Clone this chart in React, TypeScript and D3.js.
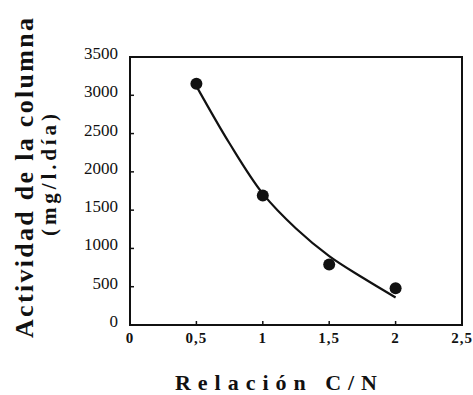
import React from "react";
import * as d3 from "d3";

// Measured points
const pointX = [0.5, 1, 1.5, 2];
const pointY = [3150, 1690, 790, 480];

// Fitted curve
const curveX = [0.5, 0.75, 1, 1.25, 1.5, 1.75, 2];
const curveY = [3120, 2370, 1715, 1260, 900, 620, 360];

const xTicks = [0, 0.5, 1, 1.5, 2, 2.5];
const xTickLabels = ["0", "0,5", "1", "1,5", "2", "2,5"];
const yTicks = [0, 500, 1000, 1500, 2000, 2500, 3000, 3500];
const yTickLabels = ["0", "500", "1000", "1500", "2000", "2500", "3000", "3500"];

const yTitle1 = "Actividad de la columna";
const yTitle2 = "(mg/l.día)";
const xTitle = "Relación C/N";

const W = 473;
const H = 395;
const L = 130, R = 462, T = 57, B = 325;

const serif = "Liberation Serif";

export default function App() {
  const x = d3.scaleLinear().domain([0, 2.5]).range([L, R]);
  const y = d3.scaleLinear().domain([0, 3500]).range([B, T]);
  const line = d3
    .line<number>()
    .x((_, i) => x(curveX[i]))
    .y((d) => y(d))
    .curve(d3.curveCatmullRom.alpha(0.5));
  const ts = { fontFamily: serif };
  return (
    <svg
      width={W}
      height={H}
      style={{ position: "absolute", left: 0, top: 0, background: "#fff" }}
    >
      <rect x={0} y={0} width={W} height={H} fill="#fff" />
      {/* frame */}
      <rect x={L} y={T} width={R - L} height={B - T} fill="none" stroke="#111" strokeWidth={2} />
      {/* x ticks */}
      {xTicks.map((t, i) => (
        <g key={"xt" + i}>
          <line x1={x(t)} x2={x(t)} y1={B} y2={B - 4} stroke="#111" strokeWidth={1.5} />
          <text x={x(t)} y={343} textAnchor="middle" fontSize={15} fontWeight="bold" fill="#111" letterSpacing={1} style={ts}>
            {xTickLabels[i]}
          </text>
        </g>
      ))}
      {/* y ticks */}
      {yTicks.map((t, i) => (
        <g key={"yt" + i}>
          <line x1={L} x2={L + 4} y1={y(t)} y2={y(t)} stroke="#111" strokeWidth={1.5} />
          <text x={118} y={y(t) + 2} textAnchor="end" fontSize={17} fill="#111" style={ts}>
            {yTickLabels[i]}
          </text>
        </g>
      ))}
      {/* curve */}
      <path d={line(curveY) || ""} fill="none" stroke="#111" strokeWidth={2.2} />
      {/* points */}
      {pointX.map((px, i) => (
        <circle key={"p" + i} cx={x(px)} cy={y(pointY[i])} r={6} fill="#111" />
      ))}
      {/* y titles */}
      <text
        transform="translate(33,178) rotate(-90)"
        textAnchor="middle"
        fontSize={26}
        fontWeight="bold"
        fill="#111"
        textLength={320}
        lengthAdjust="spacing"
        style={ts}
      >
        {yTitle1}
      </text>
      <text
        transform="translate(56,175) rotate(-90)"
        textAnchor="middle"
        fontSize={21}
        fontWeight="bold"
        fill="#111"
        textLength={122}
        lengthAdjust="spacing"
        style={ts}
      >
        {yTitle2}
      </text>
      {/* x title */}
      <text
        x={276}
        y={390}
        textAnchor="middle"
        fontSize={22}
        fontWeight="bold"
        fill="#111"
        textLength={202}
        lengthAdjust="spacing"
        style={ts}
      >
        {xTitle}
      </text>
    </svg>
  );
}
